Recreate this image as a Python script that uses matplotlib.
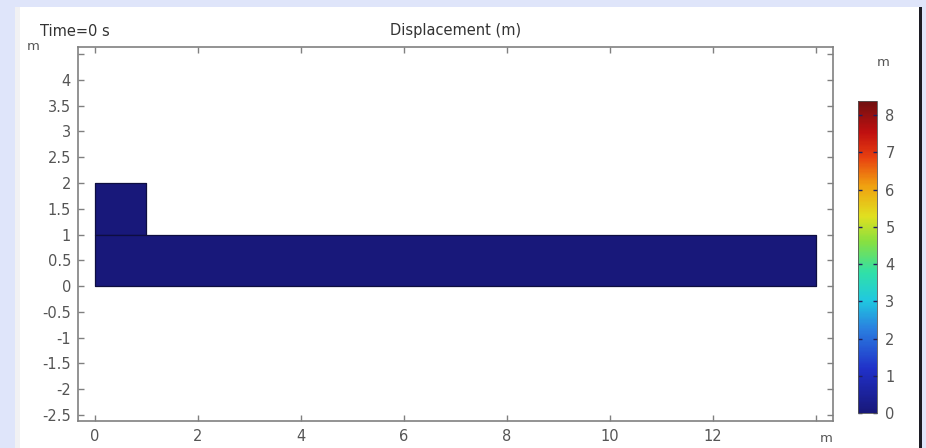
import numpy as np
import matplotlib
matplotlib.use("Agg")
import matplotlib.pyplot as plt
from matplotlib.patches import Rectangle
from matplotlib.collections import PatchCollection
from matplotlib.colors import Normalize, LinearSegmentedColormap

# geometry: (x0, y0, width, height) of each domain, and its displacement (m)
domain_x = [0.0, 0.0]
domain_y = [1.0, 0.0]
domain_w = [1.0, 14.0]
domain_h = [1.0, 1.0]
displacement = [0.0, 0.0]

x_ticks = [0, 2, 4, 6, 8, 10, 12, 14]
y_ticks = [-2.5, -2, -1.5, -1, -0.5, 0, 0.5, 1, 1.5, 2, 2.5, 3, 3.5, 4, 4.5]
cbar_ticks = [0, 1, 2, 3, 4, 5, 6, 7, 8]
cbar_max = 8.38

time_label = "Time=0 s"
title = "Displacement (m)"

txt = "#555555"
spine = "#808080"

# rainbow-like colour table as seen on the legend
rainbow = LinearSegmentedColormap.from_list("rainbow_c", [
    (0.00, "#18187a"), (0.14, "#2030c8"), (0.27, "#2a80e0"),
    (0.36, "#20c8e0"), (0.45, "#30e0a8"), (0.55, "#88e040"),
    (0.63, "#e0e020"), (0.73, "#f0a010"), (0.82, "#e84010"),
    (0.90, "#c01010"), (1.00, "#701010")])

fig = plt.figure(figsize=(9.26, 4.48), dpi=100, facecolor="#dfe5fa")
# white panel of the screenshot (behind the axes)
def panel(x, w, color):
    fig.patches.append(Rectangle((x / 926, 0), w / 926, 441 / 448,
                                 transform=fig.transFigure, facecolor=color,
                                 edgecolor="none", zorder=-5))

panel(15, 904, "white")
panel(15, 5, "#f1f1f3")
panel(919, 3, "#1c1c24")

ax = fig.add_axes([78 / 926, 27 / 448, 755 / 926, 374 / 448])
ax.set_facecolor("white")

norm = Normalize(0, cbar_max)

rects = [Rectangle((x, y), w, h) for x, y, w, h in zip(domain_x, domain_y, domain_w, domain_h)]
pc = PatchCollection(rects, cmap=rainbow, norm=norm, edgecolor="#0e0e40", linewidth=0.9)
pc.set_array(np.array(displacement))
ax.add_collection(pc)

ax.set_xlim(-0.33, 14.33)
ax.set_ylim(-2.62, 4.64)

ax.set_xticks(x_ticks)
ax.set_yticks(y_ticks)
ax.set_xticklabels([str(t) for t in x_ticks[:-1]] + [""])
ax.set_yticklabels([("%g" % t) for t in y_ticks[:-1]] + [""])
ax.tick_params(direction="in", length=4, width=1, color=spine, labelcolor=txt,
               labelsize=10.5, top=True, right=True, pad=5)
ax.tick_params(axis="x", pad=6)
for s in ax.spines.values():
    s.set_color(spine)
    s.set_linewidth(1.2)

# unit labels in place of last ticks
fig.text(27 / 926, 1 - 47 / 448, "m", color=txt, fontsize=9.5, ha="left", va="center")
fig.text(826 / 926, 1 - 438 / 448, "m", color=txt, fontsize=9.5, ha="center", va="center")
fig.text(883 / 926, 1 - 63 / 448, "m", color=txt, fontsize=9.5, ha="center", va="center")

fig.text(40 / 926, 1 - 31 / 448, time_label, color="#333333", fontsize=10.5, ha="left", va="center")
fig.text(456 / 926, 1 - 31 / 448, title, color="#333333", fontsize=10.5, ha="center", va="center")

cax = fig.add_axes([858 / 926, 35 / 448, 19 / 926, 312 / 448])
cb = fig.colorbar(pc, cax=cax)
cb.set_ticks(cbar_ticks)
cb.outline.set_edgecolor("#555555")
cb.outline.set_linewidth(0.6)
cax.tick_params(direction="in", length=3, width=1, color="#202060", labelcolor=txt,
                labelsize=10.5, left=True, right=True, pad=6)

fig.savefig("out.png", dpi=100, facecolor=fig.get_facecolor())
